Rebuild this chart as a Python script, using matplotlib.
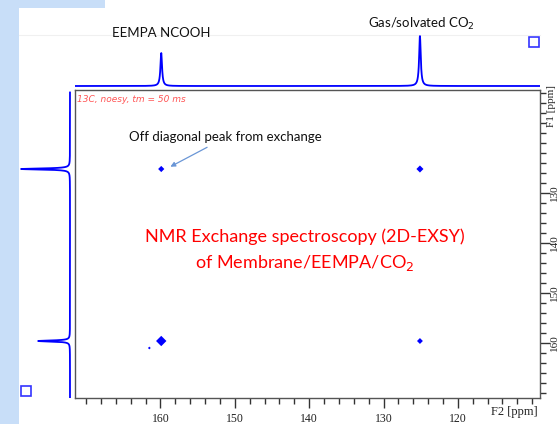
import numpy as np
import matplotlib
matplotlib.use("Agg")
import matplotlib.pyplot as plt
from matplotlib.patches import Rectangle
from matplotlib.ticker import FixedLocator

# ---- data ----
f2_peaks = [159.9, 125.1]          # ppm, top 1D projection
f2_heights = [0.66, 1.0]
f1_peaks = [125.2, 159.6]          # ppm, left 1D projection
f1_heights = [1.0, 0.65]
cross_f2 = [159.9, 125.1, 159.9, 125.1, 161.5]
cross_f1 = [159.6, 159.6, 125.2, 125.2, 161.0]
cross_size = [28, 9, 10, 13, 2]
x_ticks = [160, 150, 140, 130, 120]
y_ticks = [130, 140, 150, 160]

W, H = 560, 424
fig = plt.figure(figsize=(W / 100, H / 100), dpi=100)
fig.patch.set_facecolor("white")

def fr(x0, y0, x1, y1):
    return [x0 / W, 1 - y1 / H, (x1 - x0) / W, (y1 - y0) / H]

# slide background decorations
bg = fig.add_axes([0, 0, 1, 1])
bg.set_xlim(0, W); bg.set_ylim(H, 0); bg.axis("off")
bg.add_patch(Rectangle((0, 0), 19, H, color="#c8def8", lw=0))
bg.add_patch(Rectangle((0, 0), 105, 8, color="#c8def8", lw=0))
bg.plot([19, 540], [35, 35], color="#f0f0f0", lw=0.8)
bg.add_patch(Rectangle((529, 37), 10, 10, fill=False, ec="#3333ff", lw=1.2))
bg.add_patch(Rectangle((21, 386), 10, 10, fill=False, ec="#3333ff", lw=1.2))

XL = (171.5, 108.95)
YL = (171.0, 109.4)

# main 2D axes
ax = fig.add_axes(fr(75, 90, 540, 398))
ax.set_xlim(*XL)
ax.set_ylim(*YL)
for s in ax.spines.values():
    s.set_color("#555555"); s.set_linewidth(1.0)
ax.yaxis.tick_right()
ax.yaxis.set_label_position("right")
ax.xaxis.set_major_locator(FixedLocator(x_ticks))
ax.xaxis.set_minor_locator(FixedLocator(np.arange(110, 171, 2)))
ax.yaxis.set_major_locator(FixedLocator(y_ticks))
ax.yaxis.set_minor_locator(FixedLocator(np.arange(110, 171, 2)))
ax.tick_params(which="both", direction="out", color="#333333", width=1.0,
               labelsize=8.5, labelcolor="#222222")
ax.tick_params(axis="y", labelsize=8)
ax.tick_params(which="major", length=7)
ax.tick_params(which="minor", length=4.5)
ax.tick_params(axis="y", labelrotation=90, pad=0)
for lab in ax.get_xticklabels() + ax.get_yticklabels():
    lab.set_family("Liberation Serif")
for lab in ax.get_yticklabels():
    lab.set_va("center")
ax.scatter(cross_f2, cross_f1, s=cross_size, marker="D", color="#0000ff",
           edgecolors="none", zorder=3)
ax.text(0.005, 0.985, "13C, noesy, tm = 50 ms", transform=ax.transAxes,
        color="#ff5555", fontsize=6.5, style="italic", ha="left", va="top",
        family="DejaVu Sans")
ax.annotate("", xy=(159.0, 125.0), xytext=(153.4, 120.6),
            arrowprops=dict(arrowstyle="-|>", color="#6a96d6", lw=0.9,
                            mutation_scale=7))

fig.text(514 / W, 1 - 412 / H, "F2 [ppm]", family="Liberation Serif",
         fontsize=9, ha="center", va="center", color="#222222")
fig.text(552 / W, 1 - 106 / H, "F1 [ppm]", family="Liberation Serif",
         fontsize=8, ha="center", va="center", rotation=90, color="#222222")

# 1D projections
def lorentz(x, pos, hts, w=0.13):
    y = np.zeros_like(x)
    for p, h in zip(pos, hts):
        y += h * w**2 / ((x - p) ** 2 + w**2)
    return y

grid = np.linspace(XL[0], XL[1], 4000)

axt = fig.add_axes(fr(75, 30, 540, 88))
axt.set_xlim(*XL); axt.set_ylim(-0.04, 1.119); axt.axis("off")
axt.plot(grid, lorentz(grid, f2_peaks, f2_heights), color="#0000ff", lw=1.3)

gy = np.linspace(YL[1] + 0.5, YL[0], 4000)
axl = fig.add_axes(fr(15, 90, 72, 398))
axl.set_ylim(*YL); axl.set_xlim(1.122, -0.041); axl.axis("off")
axl.plot(lorentz(gy, f1_peaks, f1_heights), gy, color="#0000ff", lw=1.3)

# annotations text
fig.text(161 / W, 1 - 33 / H, "EEMPA NCOOH", family="Lato", fontsize=9.5,
         ha="center", va="center", color="#111111")
fig.text(421 / W, 1 - 24 / H, "Gas/solvated CO$_2$", family="Lato",
         fontsize=9.5, ha="center", va="center", color="#111111")
fig.text(225 / W, 1 - 137 / H, "Off diagonal peak from exchange",
         family="Lato", fontsize=9.5, ha="center", va="center",
         color="#111111")
fig.text(305 / W, 1 - 237 / H, "NMR Exchange spectroscopy (2D-EXSY)",
         family="Lato", fontsize=13, ha="center", va="center", color="#ff0000")
fig.text(305 / W, 1 - 263 / H, "of Membrane/EEMPA/CO$_2$",
         family="Lato", fontsize=13, ha="center", va="center", color="#ff0000")

fig.savefig("out.png", dpi=100)
